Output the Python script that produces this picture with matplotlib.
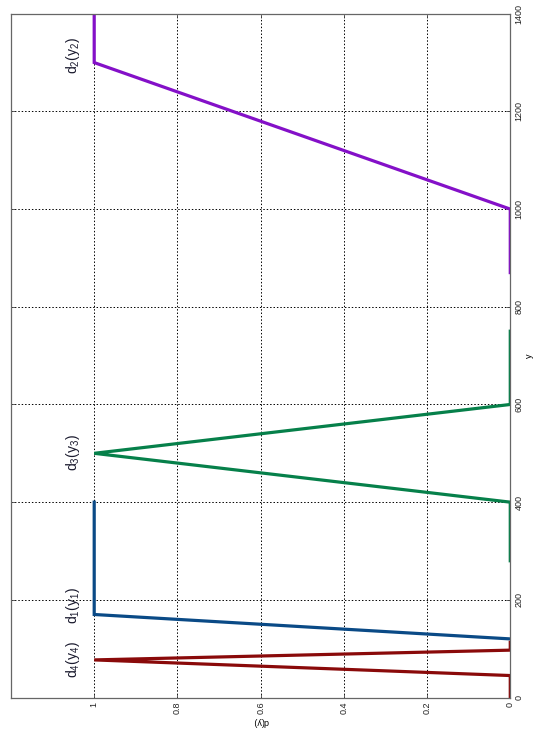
import matplotlib
matplotlib.use("Agg")
import matplotlib.pyplot as plt

# desirability functions (y value, d value)
d1_y = [120, 170, 400]
d1_d = [0, 1, 1]
d2_y = [870, 1000, 1300, 1400]
d2_d = [0, 0, 1, 1]
d3_y = [280, 400, 500, 600, 750]
d3_d = [0, 0, 1, 0, 0]
d4_y = [0, 45, 77, 97, 113]
d4_d = [0, 0, 1, 0, 0]

y_ticks = [0, 200, 400, 600, 800, 1000, 1200, 1400]
d_ticks = [0, 0.2, 0.4, 0.6, 0.8, 1]
d_tick_labels = ["0", "0.2", "0.4", "0.6", "0.8", "1"]

labels = [r"$\mathregular{d_1(y_1)}$", r"$\mathregular{d_2(y_2)}$",
          r"$\mathregular{d_3(y_3)}$", r"$\mathregular{d_4(y_4)}$"]
label_y = [188, 1315, 502, 77]

BLUE = "#0a4a86"
PURPLE = "#8410c8"
GREEN = "#06804a"
RED = "#8a0a0a"

plt.rcParams["mathtext.fontset"] = "custom"
plt.rcParams["mathtext.rm"] = "Liberation Serif"
plt.rcParams["font.family"] = "Liberation Sans"

fig = plt.figure(figsize=(5.36, 7.31), dpi=100)
ax = fig.add_axes([0.0205, 0.0458, 0.9315, 0.9354])

# the chart is drawn turned a quarter turn: y runs up, d(y) runs to the left
for yy, dd, c in [(d1_y, d1_d, BLUE), (d2_y, d2_d, PURPLE),
                  (d3_y, d3_d, GREEN), (d4_y, d4_d, RED)]:
    ax.plot(dd, yy, color=c, lw=2.3, solid_joinstyle="miter")

for txt, yy in zip(labels, label_y):
    ax.text(1.052, yy, txt, rotation=90, ha="center", va="center",
            fontsize=10, color="#1a1a2e")

ax.set_xlim(1.2, 0)
ax.set_ylim(0, 1400)
ax.set_xticks(d_ticks)
ax.set_xticklabels(d_tick_labels, rotation=90, va="top", fontsize=6.5)
ax.set_yticks(y_ticks)
ax.set_yticklabels([str(v) for v in y_ticks], rotation=90, va="center",
                   fontsize=6.5)
ax.yaxis.tick_right()
ax.yaxis.set_label_position("right")
ax.tick_params(direction="in", length=3, width=0.6, colors="#444444",
               labelcolor="#222222", pad=3, top=True, left=True)

ax.grid(True, color="black", linestyle=(0, (1.5, 2)), linewidth=0.7)
for s in ax.spines.values():
    s.set_color("#666666")
    s.set_linewidth(0.9)

ax.set_xlabel("d(y)", rotation=180, fontsize=6.5, labelpad=2)
ax.set_ylabel("y", rotation=90, fontsize=6.5, va="center")
ax.yaxis.set_label_coords(1.038, 0.5)

fig.savefig("out.png", dpi=100)
